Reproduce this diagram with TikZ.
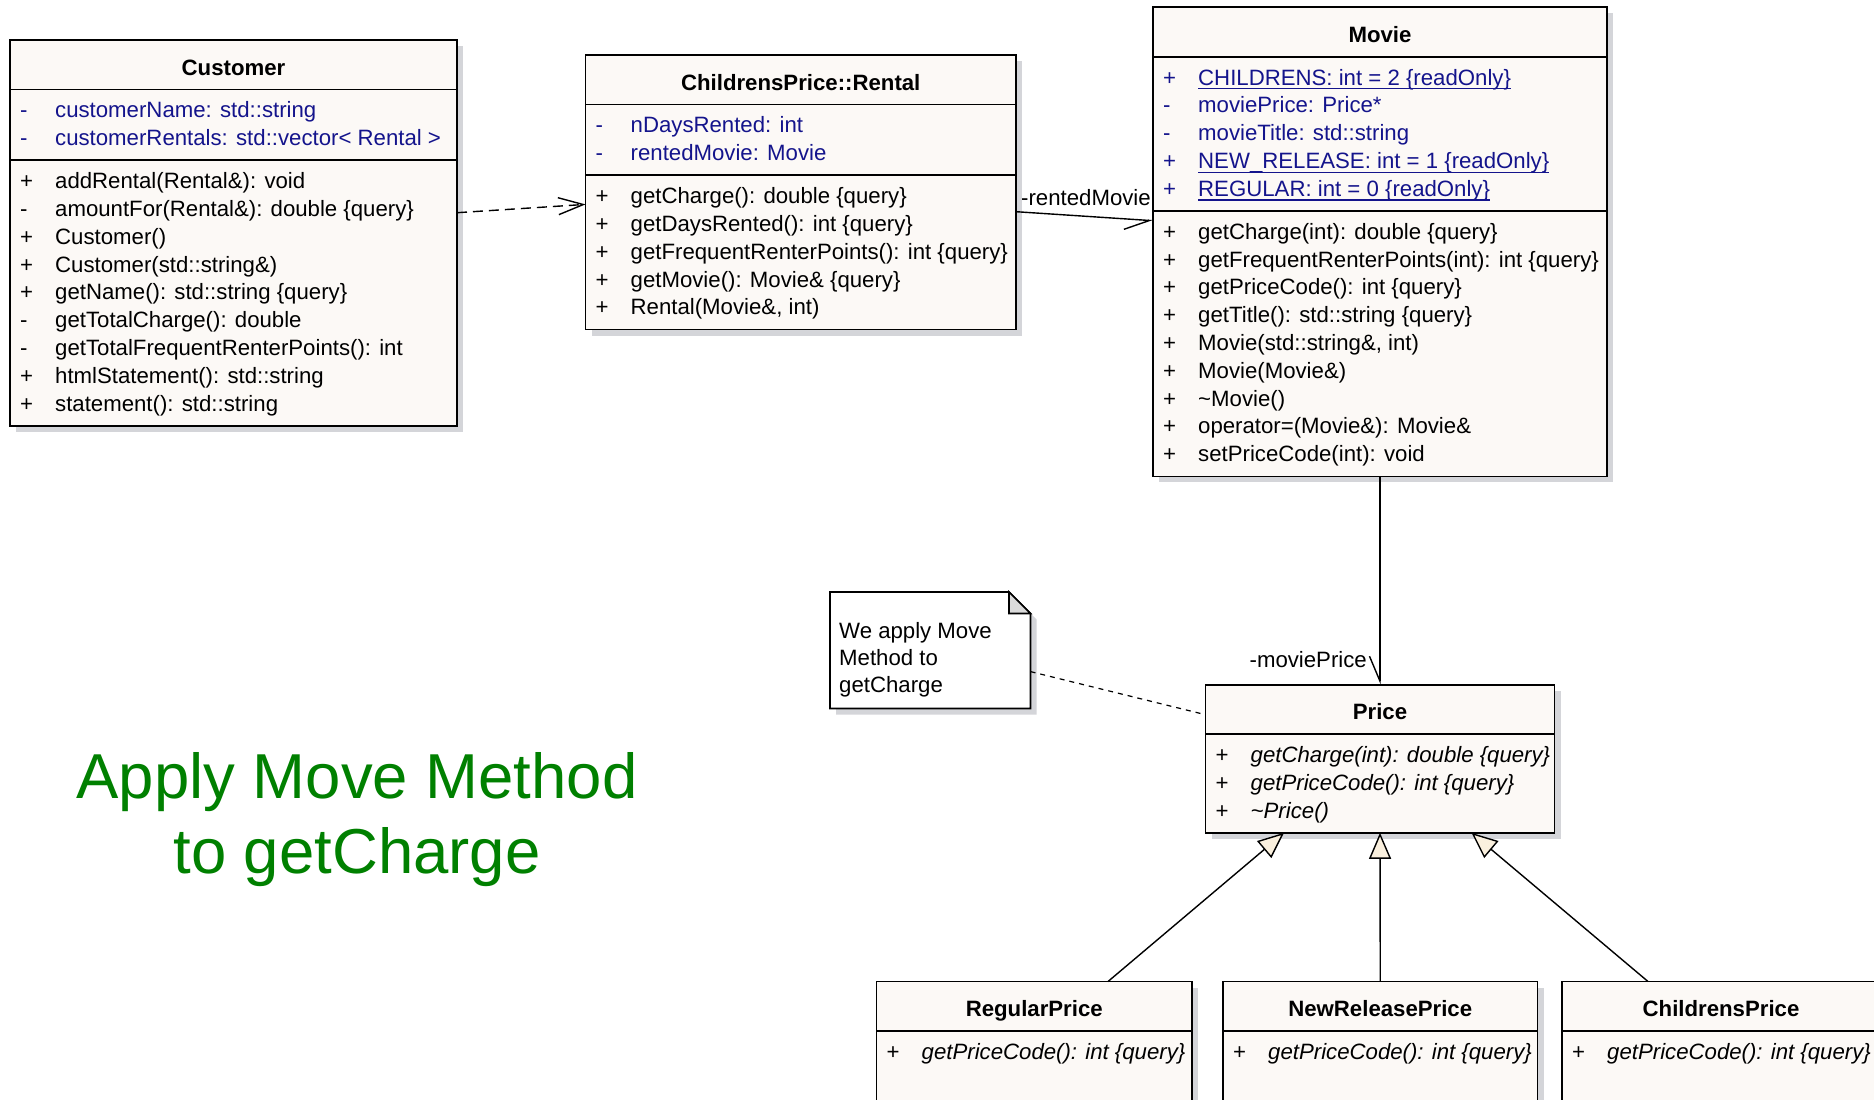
\documentclass[tikz,border=0pt]{standalone}
\usepackage{fontspec}
\setmainfont{Liberation Sans}
\usetikzlibrary{arrows.meta,calc,shadows}

\definecolor{boxfill}{RGB}{252,249,246}
\definecolor{shadowgray}{RGB}{212,213,217}
\definecolor{attrblue}{RGB}{20,20,140}
\definecolor{trifill}{RGB}{250,240,222}
\definecolor{foldgray}{RGB}{218,218,218}
\definecolor{headgreen}{RGB}{0,128,0}

% visibility column of a member row
\newcommand\vis[1]{\makebox[35pt][l]{#1}}
% underlined (static) member
\newcommand\staticattr[1]{\setbox0\hbox{#1}\rlap{\rule[-4.3pt]{\wd0}{1.3pt}}\box0}

\tikzset{
  classbox/.style={draw, line width=1.8pt, fill=boxfill, rectangle, inner sep=0pt, outer sep=0pt,
    anchor=north west, general shadow={fill=shadowgray, shadow xshift=6pt, shadow yshift=-6pt}},
  divider/.style={line width=1.8pt},
  classname/.style={anchor=base, inner sep=0pt, font=\fontsize{22.2}{27.8}\selectfont\bfseries},
  member/.style={anchor=base west, inner sep=0pt},
  attr/.style={member, text=attrblue},
  conn/.style={line width=1.4pt},
  dep/.style={conn, dash pattern=on 10pt off 6pt, -{Straight Barb[length=25pt,width=17pt]}},
  assoc/.style={conn, -{Straight Barb[harpoon,swap,length=25pt,width=21pt]}},
  gen/.style={conn, -{Triangle[length=26pt,width=22pt,fill=trifill]}},
  notelink/.style={line width=1.2pt, dash pattern=on 5pt off 5pt},
  notebody/.style={rectangle, inner sep=0pt, outer sep=0pt, anchor=north west},
  noteshape/.style={draw, line width=1.6pt, line join=miter},
  rolelabel/.style={inner sep=0pt},
  headline/.style={anchor=base, inner sep=0pt, text=headgreen, font=\fontsize{63.5}{75}\selectfont}
}

\begin{document}
\begin{tikzpicture}[x=1pt, y=-1pt, font=\fontsize{22.2}{27.8}\selectfont]
\useasboundingbox (0,0) rectangle (1874,1100);
\clip (0,0) rectangle (1874,1100);
\fill[white] (0,0) rectangle (1874,1100);

% ---------------- Customer ----------------
\node[classbox, minimum width=447pt, minimum height=385.7pt] (customer) at (10,40) {};
\draw[divider] ($(customer.north west)+(0,49.5)$) -- ($(customer.north east)+(0,49.5)$);
\draw[divider] ($(customer.north west)+(0,120.3)$) -- ($(customer.north east)+(0,120.3)$);
\node[classname] (customer-name) at (233.5,75) {Customer};
\node[attr] (customer-a1) at (20,117.8) {\vis{-}customerName: std::string};
\node[attr] (customer-a2) at (20,145.6) {\vis{-}customerRentals: std::vector< Rental >};
\node[member] (customer-m1) at (20,188.6) {\vis{+}addRental(Rental\&): void};
\node[member] (customer-m2) at (20,216.4) {\vis{-}amountFor(Rental\&): double \{query\}};
\node[member] (customer-m3) at (20,244.2) {\vis{+}Customer()};
\node[member] (customer-m4) at (20,272.0) {\vis{+}Customer(std::string\&)};
\node[member] (customer-m5) at (20,299.8) {\vis{+}getName(): std::string \{query\}};
\node[member] (customer-m6) at (20,327.6) {\vis{-}getTotalCharge(): double};
\node[member] (customer-m7) at (20,355.4) {\vis{-}getTotalFrequentRenterPoints(): int};
\node[member] (customer-m8) at (20,383.2) {\vis{+}htmlStatement(): std::string};
\node[member] (customer-m9) at (20,411.0) {\vis{+}statement(): std::string};

% ---------------- ChildrensPrice::Rental ----------------
\node[classbox, minimum width=430.5pt, minimum height=274.5pt] (rental) at (585.5,55) {};
\draw[divider] ($(rental.north west)+(0,49.5)$) -- ($(rental.north east)+(0,49.5)$);
\draw[divider] ($(rental.north west)+(0,120.3)$) -- ($(rental.north east)+(0,120.3)$);
\node[classname] (rental-name) at (800.75,90) {ChildrensPrice::Rental};
\node[attr] (rental-a1) at (595.5,132.8) {\vis{-}nDaysRented: int};
\node[attr] (rental-a2) at (595.5,160.6) {\vis{-}rentedMovie: Movie};
\node[member] (rental-m1) at (595.5,203.6) {\vis{+}getCharge(): double \{query\}};
\node[member] (rental-m2) at (595.5,231.4) {\vis{+}getDaysRented(): int \{query\}};
\node[member] (rental-m3) at (595.5,259.2) {\vis{+}getFrequentRenterPoints(): int \{query\}};
\node[member] (rental-m4) at (595.5,287.0) {\vis{+}getMovie(): Movie\& \{query\}};
\node[member] (rental-m5) at (595.5,314.8) {\vis{+}Rental(Movie\&, int)};

% ---------------- Movie ----------------
\node[classbox, minimum width=454pt, minimum height=469.1pt] (movie) at (1153,7.3) {};
\draw[divider] ($(movie.north west)+(0,49.5)$) -- ($(movie.north east)+(0,49.5)$);
\draw[divider] ($(movie.north west)+(0,203.7)$) -- ($(movie.north east)+(0,203.7)$);
\node[classname] (movie-name) at (1380,42.3) {Movie};
\node[attr] (movie-a1) at (1163,85.1) {\vis{+}\staticattr{CHILDRENS: int = 2 \{readOnly\}}};
\node[attr] (movie-a2) at (1163,112.9) {\vis{-}moviePrice: Price*};
\node[attr] (movie-a3) at (1163,140.7) {\vis{-}movieTitle: std::string};
\node[attr] (movie-a4) at (1163,168.5) {\vis{+}\staticattr{NEW\_RELEASE: int = 1 \{readOnly\}}};
\node[attr] (movie-a5) at (1163,196.3) {\vis{+}\staticattr{REGULAR: int = 0 \{readOnly\}}};
\node[member] (movie-m1) at (1163,239.3) {\vis{+}getCharge(int): double \{query\}};
\node[member] (movie-m2) at (1163,267.1) {\vis{+}getFrequentRenterPoints(int): int \{query\}};
\node[member] (movie-m3) at (1163,294.9) {\vis{+}getPriceCode(): int \{query\}};
\node[member] (movie-m4) at (1163,322.7) {\vis{+}getTitle(): std::string \{query\}};
\node[member] (movie-m5) at (1163,350.5) {\vis{+}Movie(std::string\&, int)};
\node[member] (movie-m6) at (1163,378.3) {\vis{+}Movie(Movie\&)};
\node[member] (movie-m7) at (1163,406.1) {\vis{+}\textasciitilde Movie()};
\node[member] (movie-m8) at (1163,433.9) {\vis{+}operator=(Movie\&): Movie\&};
\node[member] (movie-m9) at (1163,461.7) {\vis{+}setPriceCode(int): void};

% ---------------- Price ----------------
\node[classbox, minimum width=349pt, minimum height=148.1pt] (price) at (1205.5,684.7) {};
\draw[divider] ($(price.north west)+(0,49.5)$) -- ($(price.north east)+(0,49.5)$);
\node[classname] (price-name) at (1380,719.7) {Price};
\node[member] (price-m1) at (1215.5,762.5) {\vis{+}\itshape getCharge(int): double \{query\}};
\node[member] (price-m2) at (1215.5,790.3) {\vis{+}\itshape getPriceCode(): int \{query\}};
\node[member] (price-m3) at (1215.5,818.1) {\vis{+}\itshape \textasciitilde Price()};

% ---------------- Price subclasses ----------------
\node[classbox, minimum width=315.5pt, minimum height=140pt] (regular) at (876.5,981.5) {};
\draw[divider] ($(regular.north west)+(0,49.5)$) -- ($(regular.north east)+(0,49.5)$);
\node[classname] (regular-name) at (1034.25,1016.5) {RegularPrice};
\node[member] (regular-m1) at (886.5,1059.3) {\vis{+}\itshape getPriceCode(): int \{query\}};

\node[classbox, minimum width=314.5pt, minimum height=140pt] (newrelease) at (1223,981.5) {};
\draw[divider] ($(newrelease.north west)+(0,49.5)$) -- ($(newrelease.north east)+(0,49.5)$);
\node[classname] (newrelease-name) at (1380.25,1016.5) {NewReleasePrice};
\node[member] (newrelease-m1) at (1233,1059.3) {\vis{+}\itshape getPriceCode(): int \{query\}};

\node[classbox, minimum width=318pt, minimum height=140pt] (childrens) at (1562,981.5) {};
\draw[divider] ($(childrens.north west)+(0,49.5)$) -- ($(childrens.north east)+(0,49.5)$);
\node[classname] (childrens-name) at (1721,1016.5) {ChildrensPrice};
\node[member] (childrens-m1) at (1572,1059.3) {\vis{+}\itshape getPriceCode(): int \{query\}};

% ---------------- Note ----------------
\node[notebody, minimum width=200.5pt, minimum height=116.5pt] (note) at (830,592) {};
\draw[noteshape, fill=white, general shadow={fill=shadowgray, shadow xshift=6pt, shadow yshift=-6pt}]
  (note.north west) -- ($(note.north east)+(-21.5,0)$) -- ($(note.north east)+(0,21.5)$)
  -- (note.south east) -- (note.south west) -- cycle;
\draw[noteshape, fill=foldgray] ($(note.north east)+(-21.5,0)$) -- ($(note.north east)+(-21.5,21.5)$)
  -- ($(note.north east)+(0,21.5)$) -- cycle;
\node[member] (note-l1) at (839,638) {We apply Move};
\node[member] (note-l2) at (839,665) {Method to};
\node[member] (note-l3) at (839,692) {getCharge};

% ---------------- Connectors ----------------
\draw[dep] ($(customer.north east)+(0,172.7)$) -- ($(rental.north west)+(0,149.4)$);
\draw[assoc] ($(rental.north east)+(0,156.7)$) -- ($(movie.north west)+(0,213.4)$);
\node[rolelabel, anchor=base west] (rented-role) at (1021,205) {-rentedMovie};
\draw[assoc] (movie.south) -- (price.north);
\node[rolelabel, anchor=base east] (price-role) at (1367,667.3) {-moviePrice};
\draw[notelink] ($(note.north east)+(0,79.6)$) -- ($(price.north west)+(0,30)$);
\draw[gen] ($(regular.north)+(73.75,0)$) -- ($(price.south)+(-96,0)$);
\draw[gen] (newrelease.north) -- (price.south);
\draw[gen] ($(childrens.north)+(-73,0)$) -- ($(price.south)+(91.5,0)$);

% ---------------- Heading ----------------
\node[headline] (headline-1) at (357,798.3) {Apply Move Method};
\node[headline] (headline-2) at (357,873.3) {to getCharge};
\end{tikzpicture}
\end{document}
